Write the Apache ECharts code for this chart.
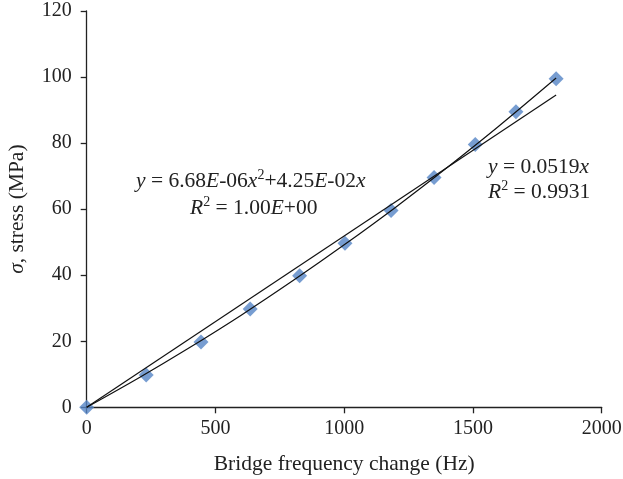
<!DOCTYPE html>
<html><head><meta charset="utf-8">
<script src="https://cdn.jsdelivr.net/npm/echarts@6/dist/echarts.min.js"></script>
<style>html,body{margin:0;padding:0;background:#fff}#c{width:623px;height:479px}</style>
</head><body><div id="c"></div>
<script>
// Measured data points (frequency change Hz, stress MPa)
var freqHz = [0, 231, 444, 635, 827, 1003, 1182, 1349, 1509, 1667, 1823];
var stressMPa = [0, 9.8, 19.8, 29.8, 39.8, 49.7, 59.6, 69.6, 79.6, 89.5, 99.5];
// Linear trendline end points
var linTrendX = [0, 1823];
var linTrendY = [0, 94.6];
// Polynomial trendline sample points
var polyTrendX = [0, 200, 400, 600, 800, 1000, 1200, 1400, 1600, 1823];
var polyTrendY = [0, 8.8, 18.1, 27.9, 38.3, 49.2, 60.6, 72.6, 85.1, 99.7];
// Axis ticks
var xTicks = [0, 500, 1000, 1500, 2000];
var yTicks = [0, 20, 40, 60, 80, 100, 120];

function zip(a, b) { return a.map(function (v, i) { return [v, b[i]]; }); }

var font = '"Liberation Serif", "DejaVu Serif", serif';
var FS = 21.5, TS = 20, SS = 14;
var chart = echarts.init(document.getElementById('c'), null, {renderer: 'canvas'});
var axisCommon = {
  axisLine: {show: true, lineStyle: {color: '#222', width: 1.3}},
  axisTick: {show: true, inside: false, length: 6, lineStyle: {color: '#222', width: 1.3}},
  splitLine: {show: false},
  nameTextStyle: {fontFamily: font, fontSize: FS, color: '#222'}
};
var richI = {fontStyle: 'italic', fontSize: FS, fontFamily: font, lineHeight: 26};
var richS = {fontSize: SS, fontFamily: font, verticalAlign: 'top', lineHeight: 26, padding: [0, 0, 0, 0]};
chart.setOption({
  animation: false,
  grid: {left: 86.7, right: 21.3, top: 11, bottom: 71.7, containLabel: false, outerBoundsMode: 'none'},
  xAxis: Object.assign({}, axisCommon, {
    type: 'value', min: xTicks[0], max: xTicks[xTicks.length - 1], interval: 500,
    name: 'Bridge frequency change (Hz)', nameLocation: 'middle', nameGap: 46,
    axisLabel: {fontFamily: font, fontSize: TS, color: '#222', margin: 11,
      formatter: function (v) { return String(v); }}
  }),
  yAxis: Object.assign({}, axisCommon, {
    type: 'value', min: yTicks[0], max: yTicks[yTicks.length - 1], interval: 20,
    name: '{i|σ}, stress (MPa)', nameLocation: 'middle', nameGap: 58, nameRotate: 90,
    nameTextStyle: {fontFamily: font, fontSize: FS, color: '#222',
      rich: {i: {fontFamily: font, fontSize: FS, fontStyle: 'italic', color: '#222'}}},
    axisLabel: {fontFamily: font, fontSize: TS, color: '#222', margin: 15,
      formatter: function (v) { return String(v); }}
  }),
  series: [
    {type: 'scatter', data: zip(freqHz, stressMPa), symbol: 'diamond', symbolSize: [15, 15],
     itemStyle: {color: '#5585C5'}, z: 2},
    {type: 'line', data: zip(linTrendX, linTrendY), showSymbol: false, symbol: 'none',
     lineStyle: {color: '#111', width: 1.2}, z: 3},
    {type: 'line', data: zip(polyTrendX, polyTrendY), showSymbol: false, symbol: 'none', smooth: 0.3,
     lineStyle: {color: '#111', width: 1.2}, z: 3}
  ],
  graphic: [
    {type: 'text', left: 136, top: 168, z: 10, style: {
      text: '{i|y} = 6.68{i|E}-06{i|x}{s|2}+4.25{i|E}-02{i|x}', font: FS + 'px ' + font, fill: '#222',
      rich: {i: richI, s: richS}
    }},
    {type: 'text', left: 190, top: 195, z: 10, style: {
      text: '{i|R}{s|2} = 1.00{i|E}+00', font: FS + 'px ' + font, fill: '#222',
      rich: {i: richI, s: richS}
    }},
    {type: 'text', left: 488, top: 156, z: 10, style: {
      text: '{i|y} = 0.0519{i|x}', font: FS + 'px ' + font, fill: '#222',
      rich: {i: richI}
    }},
    {type: 'text', left: 488, top: 179, z: 10, style: {
      text: '{i|R}{s|2} = 0.9931', font: FS + 'px ' + font, fill: '#222',
      rich: {i: richI, s: richS}
    }}
  ]
});
</script></body></html>
